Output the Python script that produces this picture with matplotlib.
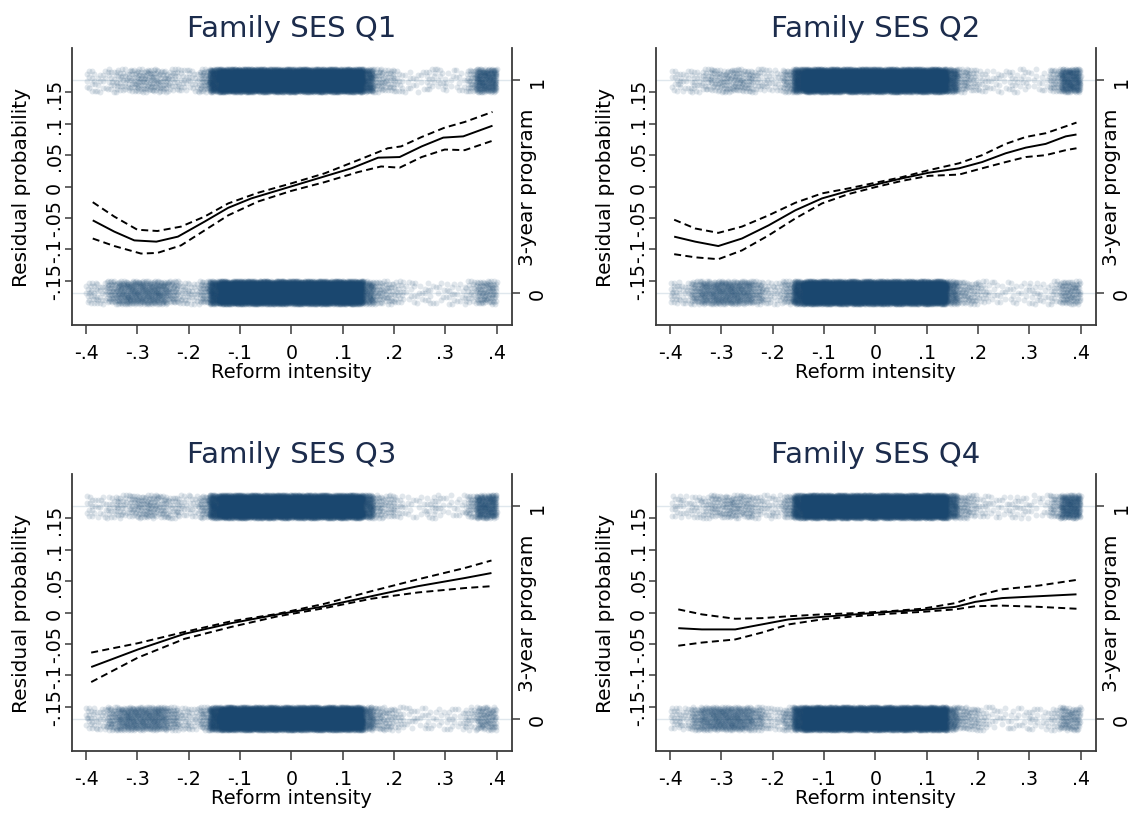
import numpy as np
import matplotlib
matplotlib.use("Agg")
import matplotlib.pyplot as plt

plt.rcParams['font.family'] = ['DejaVu Sans']

# ---------------- text ----------------
PANEL_TITLES = ["Family SES Q1", "Family SES Q2", "Family SES Q3", "Family SES Q4"]
X_LABEL = "Reform intensity"
Y_LABEL = "Residual probability"
Y2_LABEL = "3-year program"
X_TICKS = [-0.4, -0.3, -0.2, -0.1, 0.0, 0.1, 0.2, 0.3, 0.4]
X_TICK_LABELS = ["-.4", "-.3", "-.2", "-.1", "0", ".1", ".2", ".3", ".4"]
Y_TICKS = [-0.15, -0.10, -0.05, 0.0, 0.05, 0.10, 0.15]
Y_TICK_LABELS = ["-.15", "-.1", "-.05", "0", ".05", ".1", ".15"]
Y2_TICKS = [0, 1]
Y2_TICK_LABELS = ["0", "1"]

# ---------------- scatter density (points per 0.02-wide bin) ----------------
BIN_CENTERS = [-0.39, -0.37, -0.35, -0.33, -0.31, -0.29, -0.27, -0.25, -0.23, -0.21,
               -0.19, -0.17, -0.15, -0.13, -0.11, -0.09, -0.07, -0.05, -0.03, -0.01,
               0.01, 0.03, 0.05, 0.07, 0.09, 0.11, 0.13, 0.15, 0.17, 0.19,
               0.21, 0.23, 0.25, 0.27, 0.29, 0.31, 0.33, 0.35, 0.37, 0.39]
COUNTS_PROGRAM_1 = [14, 12, 18, 24, 32, 40, 42, 36, 24, 18,
                    16, 45, 210, 320, 320, 320, 320, 320, 320, 320,
                    320, 320, 320, 320, 320, 320, 320, 140, 40, 28,
                    16, 9, 8, 14, 12, 7, 10, 35, 120, 120]
COUNTS_PROGRAM_0 = [22, 18, 50, 75, 85, 85, 85, 75, 50, 24,
                    20, 45, 200, 320, 320, 320, 320, 320, 320, 320,
                    320, 320, 320, 320, 320, 320, 300, 95, 40, 32,
                    20, 10, 8, 10, 8, 12, 10, 20, 50, 50]

# ---------------- local polynomial fits (residual probability) ----------------
Q1_FIT_X = [-0.387, -0.345, -0.306, -0.263, -0.221, -0.169, -0.123, -0.078, -0.013,
            0.052, 0.117, 0.169, 0.211, 0.254, 0.296, 0.335, 0.392]
Q1_FIT = [-0.054, -0.072, -0.086, -0.088, -0.080, -0.056, -0.034, -0.019, -0.003,
          0.013, 0.029, 0.046, 0.047, 0.064, 0.078, 0.080, 0.097]
Q1_HI_X = [-0.387, -0.345, -0.300, -0.261, -0.215, -0.169, -0.123, -0.065, 0.0,
           0.065, 0.130, 0.188, 0.214, 0.254, 0.299, 0.338, 0.392]
Q1_HI = [-0.025, -0.048, -0.069, -0.071, -0.064, -0.048, -0.027, -0.010, 0.005,
         0.021, 0.042, 0.061, 0.064, 0.079, 0.094, 0.103, 0.119]
Q1_LO_X = [-0.387, -0.345, -0.293, -0.261, -0.215, -0.169, -0.123, -0.065, 0.0,
           0.065, 0.130, 0.175, 0.211, 0.254, 0.299, 0.338, 0.392]
Q1_LO = [-0.083, -0.095, -0.107, -0.106, -0.094, -0.070, -0.046, -0.024, -0.007,
         0.007, 0.023, 0.032, 0.030, 0.047, 0.059, 0.058, 0.073]

Q2_X = [-0.392, -0.351, -0.306, -0.260, -0.208, -0.156, -0.104, -0.052, 0.0,
        0.052, 0.104, 0.163, 0.208, 0.254, 0.293, 0.332, 0.371, 0.392]
Q2_FIT = [-0.080, -0.088, -0.095, -0.083, -0.062, -0.038, -0.019, -0.007, 0.003,
          0.013, 0.022, 0.029, 0.039, 0.053, 0.062, 0.068, 0.080, 0.083]
Q2_HI = [-0.053, -0.067, -0.074, -0.064, -0.046, -0.026, -0.011, -0.003, 0.006,
         0.015, 0.026, 0.037, 0.050, 0.068, 0.079, 0.085, 0.096, 0.102]
Q2_LO = [-0.108, -0.113, -0.116, -0.102, -0.078, -0.051, -0.027, -0.012, -0.001,
         0.009, 0.017, 0.019, 0.029, 0.039, 0.047, 0.050, 0.058, 0.061]

Q3_X = [-0.390, -0.299, -0.208, -0.117, -0.026, 0.065, 0.156, 0.247, 0.338, 0.390]
Q3_FIT = [-0.087, -0.059, -0.034, -0.017, -0.003, 0.010, 0.026, 0.042, 0.055, 0.063]
Q3_HI = [-0.064, -0.049, -0.031, -0.014, -0.002, 0.014, 0.034, 0.053, 0.071, 0.083]
Q3_LO = [-0.111, -0.072, -0.042, -0.023, -0.006, 0.007, 0.022, 0.032, 0.039, 0.042]

Q4_X = [-0.384, -0.338, -0.273, -0.221, -0.169, -0.104, -0.039, 0.026, 0.091,
        0.156, 0.195, 0.247, 0.319, 0.392]
Q4_FIT = [-0.025, -0.027, -0.027, -0.019, -0.011, -0.007, -0.003, 0.001, 0.004,
          0.009, 0.017, 0.023, 0.026, 0.029]
Q4_HI = [0.005, -0.003, -0.010, -0.009, -0.006, -0.003, -0.001, 0.002, 0.006,
         0.015, 0.026, 0.037, 0.043, 0.052]
Q4_LO = [-0.053, -0.048, -0.043, -0.032, -0.019, -0.011, -0.006, -0.002, 0.001,
         0.005, 0.010, 0.011, 0.009, 0.006]

PANELS = [
    (Q1_FIT_X, Q1_FIT, Q1_HI_X, Q1_HI, Q1_LO_X, Q1_LO),
    (Q2_X, Q2_FIT, Q2_X, Q2_HI, Q2_X, Q2_LO),
    (Q3_X, Q3_FIT, Q3_X, Q3_HI, Q3_X, Q3_LO),
    (Q4_X, Q4_FIT, Q4_X, Q4_HI, Q4_X, Q4_LO),
]

# ---------------- styling ----------------
W, H = 1132, 820
NAVY = '#1a476f'
TITLE_COLOR = '#1c2c4c'
AXIS_COLOR = '#3a3a3a'
GRID_COLOR = '#dfe7ed'
BIN_HALF = 0.01
JITTER = 0.055

PLASTIC = 1.3247179572447460
A1, A2 = 1.0 / PLASTIC, 1.0 / PLASTIC ** 2


def band_points(centers, counts, level, start):
    """Spread each bin's count of observations over the bin (deterministic jitter)."""
    xs, ys = [], []
    k = start
    for c, n in zip(centers, counts):
        i = np.arange(n) + k
        u = (0.5 + A1 * i) % 1.0
        v = (0.5 + A2 * i) % 1.0
        xs.append(c - BIN_HALF + 2 * BIN_HALF * u)
        ys.append(level + JITTER * (2 * v - 1))
        k += n
    return np.concatenate(xs), np.concatenate(ys)


fig = plt.figure(figsize=(W / 100, H / 100), dpi=100)
fig.patch.set_facecolor('white')

# axes boxes in pixels: left, right, top, bottom
BOXES = [(71.7, 512, 49, 326), (655.7, 1096, 49, 326),
         (71.7, 512, 475, 752), (655.7, 1096, 475, 752)]

for p, (box, title, data) in enumerate(zip(BOXES, PANEL_TITLES, PANELS)):
    l, r, t, b = box
    ax = fig.add_axes([l / W, 1 - b / H, (r - l) / W, (b - t) / H])
    ax2 = ax.twinx()

    # scatter of the binary outcome on the right axis
    ax2.axhline(0, color=GRID_COLOR, lw=1.0, zorder=0)
    ax2.axhline(1, color=GRID_COLOR, lw=1.0, zorder=0)
    x1, y1 = band_points(BIN_CENTERS, COUNTS_PROGRAM_1, 1.0, 7 + p * 50000)
    x0, y0 = band_points(BIN_CENTERS, COUNTS_PROGRAM_0, 0.0, 25000 + p * 50000)
    ax2.scatter(np.concatenate([x1, x0]), np.concatenate([y1, y0]), s=18,
                color=NAVY, alpha=0.13, linewidths=0, zorder=2)

    # fits on the left axis
    fx, fy, hx, hy, lx, ly = data
    ax.plot(fx, fy, color='black', lw=1.4, solid_capstyle='butt', zorder=3)
    for xx, yy in ((hx, hy), (lx, ly)):
        ln, = ax.plot(xx, yy, color='black', lw=1.4, zorder=3)
        ln.set_dashes((3.6, 2.2))

    ax.set_zorder(ax2.get_zorder() + 1)
    ax.patch.set_visible(False)

    ax.set_xlim(-0.428, 0.43)
    ax.set_ylim(-0.221, 0.221)
    ax2.set_ylim(-0.153, 1.153)

    for a in (ax, ax2):
        a.spines['top'].set_visible(False)
    ax.spines['right'].set_visible(False)
    ax2.spines['left'].set_visible(False)
    ax2.spines['bottom'].set_visible(False)
    for s in ('left', 'bottom'):
        ax.spines[s].set_color(AXIS_COLOR)
        ax.spines[s].set_linewidth(1.3)
    ax2.spines['right'].set_color(AXIS_COLOR)
    ax2.spines['right'].set_linewidth(1.3)

    ax.set_xticks(X_TICKS, X_TICK_LABELS)
    ax.set_yticks(Y_TICKS, Y_TICK_LABELS, rotation=90, va='center')
    ax2.set_yticks(Y2_TICKS, Y2_TICK_LABELS, rotation=90, va='center')

    ax.tick_params(axis='x', length=6.2, width=1.1, pad=7, labelsize=13.7,
                   color=AXIS_COLOR)
    ax.tick_params(axis='y', length=5, width=1.1, pad=0.5, labelsize=13.7,
                   color=AXIS_COLOR)
    ax2.tick_params(axis='y', length=5.8, width=1.1, pad=5.8, labelsize=13.7,
                    color=AXIS_COLOR)

    ax.set_xlabel(X_LABEL, fontsize=14)
    ax.xaxis.set_label_coords(0.5, -0.1336)
    ax.set_ylabel(Y_LABEL, fontsize=14.5)
    ax.yaxis.set_label_coords(-0.0934, 0.5)
    ax2.set_ylabel(Y2_LABEL, fontsize=14.5)
    ax2.yaxis.set_label_coords(1.0136, 0.5)

    ax.set_title(title, fontsize=21, color=TITLE_COLOR, pad=8.3)

fig.savefig('out.png', dpi=100, facecolor='white')
